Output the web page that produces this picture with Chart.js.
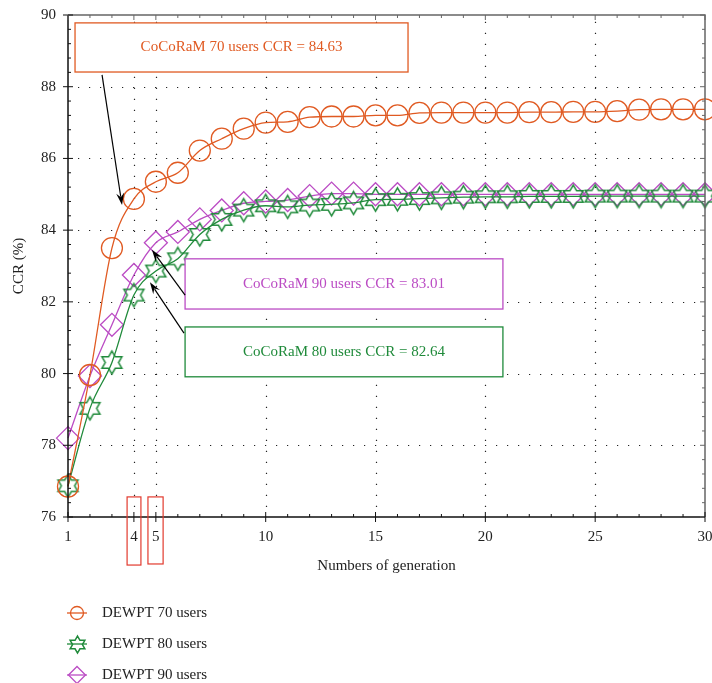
<!DOCTYPE html>
<html>
<head>
<meta charset="utf-8">
<script src="https://cdn.jsdelivr.net/npm/chart.js@4.4.0/dist/chart.umd.min.js"></script>
<style>
  html, body { margin: 0; padding: 0; background: #fff; }
</style>
</head>
<body>
<canvas id="chart" width="712" height="683"></canvas>
<script>
'use strict';

const generations = [1, 2, 3, 4, 5, 6, 7, 8, 9, 10, 11, 12, 13, 14, 15, 16, 17, 18, 19, 20, 21, 22, 23, 24, 25, 26, 27, 28, 29, 30];
const ccr70 = [76.85, 79.96, 83.5, 84.87, 85.35, 85.6, 86.22, 86.55, 86.83, 87.0, 87.02, 87.15, 87.17, 87.17, 87.2, 87.2, 87.27, 87.28, 87.28, 87.28, 87.28, 87.29, 87.29, 87.3, 87.3, 87.32, 87.36, 87.37, 87.37, 87.37];
const ccr80 = [76.87, 79.03, 80.31, 82.19, 82.86, 83.2, 83.88, 84.3, 84.56, 84.68, 84.65, 84.7, 84.72, 84.76, 84.85, 84.86, 84.88, 84.9, 84.92, 84.93, 84.93, 84.94, 84.94, 84.94, 84.95, 84.95, 84.95, 84.95, 84.95, 84.95];
const ccr90 = [78.2, 79.93, 81.36, 82.75, 83.65, 83.95, 84.3, 84.55, 84.75, 84.8, 84.84, 84.95, 85.02, 85.02, 85.0, 85.0, 85.0, 85.0, 85.0, 85.0, 85.0, 85.0, 85.0, 85.0, 85.0, 85.0, 85.0, 85.0, 85.0, 85.0];
const seriesNames = ['DEWPT 70 users', 'DEWPT 80 users', 'DEWPT 90 users'];
const xTickValues = [1, 4, 5, 10, 15, 20, 25, 30];
const yTickValues = [76, 78, 80, 82, 84, 86, 88, 90];
const noteTexts = ['CoCoRaM 70 users CCR = 84.63', 'CoCoRaM 90 users CCR = 83.01', 'CoCoRaM 80 users CCR = 82.64'];

const ORANGE = '#e05a22';
const GREEN = '#1f8a3a';
const MAGENTA = '#bb4cc4';
const FONT = '"Liberation Serif", "DejaVu Serif", serif';

// boxes and arrows, in data units: [x1, y1, x2, y2]
const notes = [
    { text: noteTexts[0], color: ORANGE, box: [1.32, 89.78, 16.48, 88.41], arrow: [2.55, 88.33, 3.46, 84.70] },
    { text: noteTexts[1], color: MAGENTA, box: [6.33, 83.20, 20.80, 81.80], arrow: [6.33, 82.19, 4.82, 83.45] },
    { text: noteTexts[2], color: GREEN, box: [6.33, 81.30, 20.80, 79.91], arrow: [6.28, 81.13, 4.73, 82.55] }
];
const highlights = [[3.69, 76.56, 4.32, 74.66], [4.64, 76.56, 5.33, 74.69]];

function makeStar(radius, color, lineWidth) {
    const size = Math.ceil(radius * 2 + 4);
    const c = document.createElement('canvas');
    c.width = size;
    c.height = size;
    const ctx = c.getContext('2d');
    const inner = radius / Math.sqrt(3);
    ctx.beginPath();
    for (let i = 0; i < 12; i++) {
        const a = -Math.PI / 2 + i * Math.PI / 6;
        const r = i % 2 === 0 ? radius : inner;
        const px = size / 2 + Math.cos(a) * r;
        const py = size / 2 + Math.sin(a) * r;
        if (i === 0) ctx.moveTo(px, py); else ctx.lineTo(px, py);
    }
    ctx.closePath();
    ctx.strokeStyle = color;
    ctx.lineWidth = lineWidth;
    ctx.lineJoin = 'miter';
    ctx.stroke();
    return c;
}

const starBig = makeStar(11.5, GREEN, 1.5);
const starSmall = makeStar(8.5, GREEN, 1.5);

function toPoints(values) {
    return values.map((v, i) => ({ x: generations[i], y: v }));
}

const datasets = [
    { label: seriesNames[0], data: toPoints(ccr70), borderColor: ORANGE, pointStyle: 'circle', pointRadius: 10.5, legendRadius: 6.5 },
    { label: seriesNames[1], data: toPoints(ccr80), borderColor: GREEN, pointStyle: starBig, pointRadius: 11, legendStyle: starSmall },
    { label: seriesNames[2], data: toPoints(ccr90), borderColor: MAGENTA, pointStyle: 'rectRot', pointRadius: 11.5, legendRadius: 8.5 }
].map(d => Object.assign(d, {
    backgroundColor: 'transparent',
    pointBackgroundColor: 'transparent',
    pointBorderColor: d.borderColor,
    pointBorderWidth: 1.3,
    borderWidth: 1.3,
    cubicInterpolationMode: 'monotone',
    clip: false
}));

function drawArrow(ctx, x1, y1, x2, y2) {
    const ang = Math.atan2(y2 - y1, x2 - x1);
    const len = 12, wid = 4;
    ctx.save();
    ctx.strokeStyle = '#000';
    ctx.fillStyle = '#000';
    ctx.lineWidth = 1.2;
    ctx.beginPath();
    ctx.moveTo(x1, y1);
    ctx.lineTo(x2 - Math.cos(ang) * len * 0.7, y2 - Math.sin(ang) * len * 0.7);
    ctx.stroke();
    ctx.translate(x2, y2);
    ctx.rotate(ang);
    ctx.beginPath();
    ctx.moveTo(0, 0);
    ctx.lineTo(-len, -wid);
    ctx.lineTo(-len * 0.65, 0);
    ctx.lineTo(-len, wid);
    ctx.closePath();
    ctx.fill();
    ctx.restore();
}

function noScalePadding(s) {
    s.paddingLeft = 0;
    s.paddingRight = 0;
    s.paddingTop = 0;
    s.paddingBottom = 0;
}

const decorPlugin = {
    id: 'decor',
    beforeDatasetsDraw(chart) {
        const { ctx, chartArea: a, scales: { x, y } } = chart;
        ctx.save();
        ctx.strokeStyle = '#222';
        ctx.lineWidth = 1.2;
        ctx.setLineDash([1.2, 9.8]);
        yTickValues.slice(1, -1).forEach(v => {
            const py = Math.round(y.getPixelForValue(v)) + 0.5;
            ctx.beginPath();
            ctx.moveTo(a.left + 10, py);
            ctx.lineTo(a.right, py);
            ctx.stroke();
        });
        xTickValues.slice(1, -1).forEach(v => {
            const px = Math.round(x.getPixelForValue(v)) + 0.5;
            ctx.beginPath();
            ctx.moveTo(px, a.bottom - 10);
            ctx.lineTo(px, a.top);
            ctx.stroke();
        });
        ctx.restore();
    },
    afterDatasetsDraw(chart) {
        const { ctx, chartArea: a, scales: { x, y } } = chart;
        ctx.save();
        // frame: top and right gray, left and bottom black
        ctx.lineWidth = 1.5;
        ctx.strokeStyle = '#666';
        ctx.beginPath();
        ctx.moveTo(a.left, a.top);
        ctx.lineTo(a.right, a.top);
        ctx.lineTo(a.right, a.bottom);
        ctx.stroke();
        ctx.strokeStyle = '#111';
        ctx.beginPath();
        ctx.moveTo(a.left, a.top);
        ctx.lineTo(a.left, a.bottom);
        ctx.lineTo(a.right, a.bottom);
        ctx.stroke();

        // y ticks
        ctx.lineWidth = 1;
        for (let i = 0; i <= 35; i++) {
            const v = 76 + i * 0.4;
            const py = y.getPixelForValue(v);
            const major = i % 5 === 0;
            ctx.strokeStyle = '#111';
            ctx.beginPath();
            ctx.moveTo(a.left - (major ? 5 : 0), py);
            ctx.lineTo(a.left + (major ? 5 : 3), py);
            ctx.stroke();
            ctx.strokeStyle = '#666';
            ctx.beginPath();
            ctx.moveTo(a.right, py);
            ctx.lineTo(a.right - (major ? 5 : 3), py);
            ctx.stroke();
        }
        // x ticks
        for (let v = 1; v <= 30; v++) {
            const px = x.getPixelForValue(v);
            const major = xTickValues.includes(v);
            ctx.strokeStyle = '#111';
            ctx.beginPath();
            ctx.moveTo(px, a.bottom + (major ? 5 : 0));
            ctx.lineTo(px, a.bottom - (major ? 5 : 3));
            ctx.stroke();
            ctx.strokeStyle = '#666';
            ctx.beginPath();
            ctx.moveTo(px, a.top);
            ctx.lineTo(px, a.top + (major ? 5 : 3));
            ctx.stroke();
        }

        // annotation boxes and arrows
        notes.forEach(n => {
            const x1 = x.getPixelForValue(n.box[0]), y1 = y.getPixelForValue(n.box[1]);
            const x2 = x.getPixelForValue(n.box[2]), y2 = y.getPixelForValue(n.box[3]);
            ctx.fillStyle = '#fff';
            ctx.fillRect(x1, y1, x2 - x1, y2 - y1);
            ctx.strokeStyle = n.color;
            ctx.lineWidth = 1.3;
            ctx.strokeRect(x1, y1, x2 - x1, y2 - y1);
            ctx.fillStyle = n.color;
            ctx.font = '15px ' + FONT;
            ctx.textAlign = 'center';
            ctx.textBaseline = 'middle';
            ctx.fillText(n.text, (x1 + x2) / 2, (y1 + y2) / 2);
            drawArrow(ctx,
                x.getPixelForValue(n.arrow[0]), y.getPixelForValue(n.arrow[1]),
                x.getPixelForValue(n.arrow[2]), y.getPixelForValue(n.arrow[3]));
        });

        // red highlight boxes round ticks 4 and 5
        ctx.strokeStyle = '#e23a2e';
        ctx.lineWidth = 1.2;
        highlights.forEach(h => {
            const x1 = x.getPixelForValue(h[0]), y1 = y.getPixelForValue(h[1]);
            const x2 = x.getPixelForValue(h[2]), y2 = y.getPixelForValue(h[3]);
            ctx.strokeRect(x1, y1, x2 - x1, y2 - y1);
        });
        ctx.restore();
    },
    afterDraw(chart) {
        // legend, stacked under the axis title
        const ctx = chart.ctx;
        const rows = [613, 644, 675];
        ctx.save();
        chart.data.datasets.forEach((d, i) => {
            const cy = rows[i];
            const cx = 77;
            ctx.strokeStyle = d.borderColor;
            ctx.lineWidth = 1.3;
            ctx.beginPath();
            ctx.moveTo(cx - 10, cy);
            ctx.lineTo(cx + 10, cy);
            ctx.stroke();
            if (d.legendStyle) {
                ctx.drawImage(d.legendStyle, Math.round(cx - d.legendStyle.width / 2), Math.round(cy - d.legendStyle.height / 2));
            } else {
                ctx.fillStyle = 'rgba(0,0,0,0)';
                Chart.helpers.drawPoint(ctx, {
                    pointStyle: d.pointStyle, radius: d.legendRadius, borderWidth: 1.3
                }, cx, cy);
            }
            ctx.fillStyle = '#222';
            ctx.font = '15px ' + FONT;
            ctx.textAlign = 'left';
            ctx.textBaseline = 'middle';
            ctx.fillText(d.label, 102, cy);
        });
        ctx.restore();
    }
};

new Chart(document.getElementById('chart'), {
    type: 'line',
    data: { datasets: datasets },
    plugins: [decorPlugin],
    options: {
        responsive: false,
        devicePixelRatio: 1,
        animation: false,
        layout: { autoPadding: false, padding: { top: 15, right: 7, bottom: 108, left: 0 } },
        plugins: { legend: { display: false }, tooltip: { enabled: false } },
        scales: {
            x: {
                type: 'linear',
                min: 1,
                max: 30,
                afterBuildTicks: s => { s.ticks = xTickValues.map(v => ({ value: v })); },
                afterFit: s => { s.height = 58; noScalePadding(s); },
                grid: { display: false, drawTicks: false },
                border: { display: false },
                ticks: { color: '#222', font: { family: FONT, size: 15 }, padding: 11, maxRotation: 0 },
                title: { display: true, text: 'Numbers of generation', color: '#222', font: { family: FONT, size: 15 }, padding: { top: 0, bottom: 0 } }
            },
            y: {
                min: 76,
                max: 90,
                afterBuildTicks: s => { s.ticks = yTickValues.map(v => ({ value: v })); },
                afterFit: s => { s.width = 68; noScalePadding(s); },
                grid: { display: false, drawTicks: false },
                border: { display: false },
                ticks: { color: '#222', font: { family: FONT, size: 15 }, padding: 12 },
                title: { display: true, text: 'CCR (%)', color: '#222', font: { family: FONT, size: 15 }, padding: { top: 10, bottom: 0 } }
            }
        }
    }
});
</script>
</body>
</html>
